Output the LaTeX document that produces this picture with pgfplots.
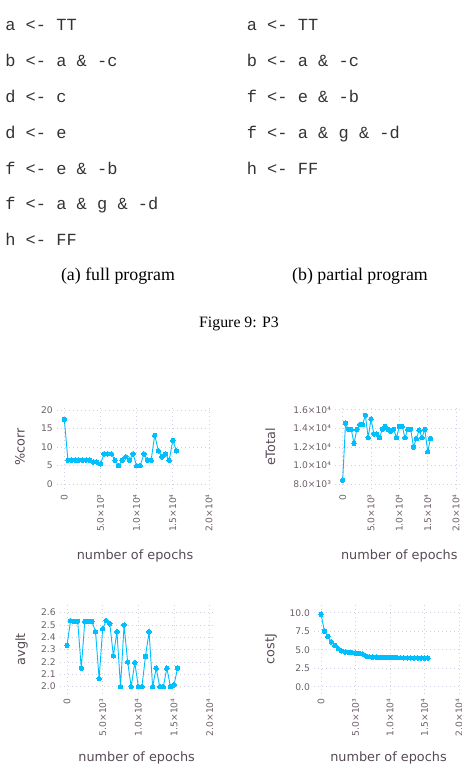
\documentclass[border=0pt]{standalone}
\usepackage{pgfplots}
\pgfplotsset{compat=1.18}
\usepackage{fontspec}
\setmainfont{Liberation Serif}
\newfontfamily\mono{Liberation Mono}
\newfontfamily\djv{DejaVu Sans}
\definecolor{gline}{HTML}{00BFFF}
\definecolor{ggrid}{HTML}{D0D0E0}
\definecolor{gtick}{HTML}{6C606B}
\definecolor{glab}{HTML}{564A55}
\pgfplotsset{
  gad/.style={
    scale only axis,
    scaled ticks=false,
    axis line style={draw=none},
    major tick length=0pt,
    grid=major,
    major grid style={dotted, color=ggrid, line width=0.5pt},
    ticklabel style={font=\djv\fontsize{5.5}{6}\selectfont, text=gtick},
    xtick={0,5000,10000,15000,20000},
    xticklabels={0,5.0×10³,1.0×10⁴,1.5×10⁴,2.0×10⁴},
    xticklabel style={rotate=90, anchor=east, inner sep=0pt},
    xticklabel shift=3pt,
    yticklabel style={anchor=east, inner sep=0pt},
    yticklabel shift=2.4pt,
    label style={font=\djv\fontsize{7.7}{9}\selectfont, text=glab},
    xlabel={number of epochs},
    clip=false,
  },
  gp/.style={color=gline, line width=0.55pt, mark=*, mark size=1.35pt, mark options={fill=gline, draw=gline, line width=0pt}},
}
\begin{document}
\begin{tikzpicture}
\path[use as bounding box] (0,0) rectangle (277.2pt,466.8pt);
% code listings
\begin{scope}[every node/.style={anchor=base west, inner sep=0pt, font=\mono\fontsize{10.2}{12}\selectfont, text=black!80}]
\node at (3pt,448.5pt) {a <- TT};
\node at (3pt,427.0pt) {b <- a \& -c};
\node at (3pt,405.4pt) {d <- c};
\node at (3pt,383.9pt) {d <- e};
\node at (3pt,362.3pt) {f <- e \& -b};
\node at (3pt,340.8pt) {f <- a \& g \& -d};
\node at (3pt,319.3pt) {h <- FF};
\node at (147.9pt,448.5pt) {a <- TT};
\node at (147.9pt,427.0pt) {b <- a \& -c};
\node at (147.9pt,405.4pt) {f <- e \& -b};
\node at (147.9pt,383.9pt) {f <- a \& g \& -d};
\node at (147.9pt,362.3pt) {h <- FF};
\end{scope}
\node[anchor=base, inner sep=0pt, font=\fontsize{10.7}{12}\selectfont] at (70.8pt,298.2pt) {(a) full program};
\node[anchor=base, inner sep=0pt, font=\fontsize{10.7}{12}\selectfont] at (216pt,298.2pt) {(b) partial program};
\node[anchor=base, inner sep=0pt, font=\fontsize{9.5}{11}\selectfont] at (143.4pt,270pt) {Figure 9: P3};

% top-left
\begin{axis}[gad, at={(34.2pt,173.4pt)}, anchor=south west, width=93.6pt, height=50.4pt,
  xmin=-1009, xmax=20553, ymin=-1.27, ymax=21.35,
  ytick={0,5,10,15,20}, yticklabels={0,5,10,15,20},
  ylabel={\%corr},
  ylabel style={at={(axis description cs:-0.237,0.5)}, anchor=center},
  xlabel style={at={(axis description cs:0.5,-0.798)}, anchor=center}]
\addplot[gp] coordinates {(0,17.5)(500,6.5)(1000,6.5)(1500,6.5)(2000,6.5)(2500,6.5)(3000,6.5)(3500,6.5)(4000,6.0)(4500,6.0)(5000,5.5)(5500,8.2)(6000,8.2)(6500,8.2)(7000,6.5)(7500,5.0)(8000,6.5)(8500,7.4)(9000,6.5)(9500,8.2)(10000,5.0)(10500,5.0)(11000,8.2)(11500,6.5)(12000,6.5)(12500,13.2)(13000,9.0)(13500,7.4)(14000,8.2)(14500,6.5)(15000,11.8)(15500,9.0)};
\end{axis}

% top-right
\begin{axis}[gad, at={(201.18pt,173.4pt)}, anchor=south west, width=76.8pt, height=50.4pt,
  xmin=-1306, xmax=21288, ymin=7496, ymax=16504,
  ytick={8000,10000,12000,14000,16000}, yticklabels={8.0×10³,1.0×10⁴,1.2×10⁴,1.4×10⁴,1.6×10⁴},
  ylabel={eTotal},
  ylabel style={at={(axis description cs:-0.508,0.5)}, anchor=center},
  xlabel style={at={(axis description cs:0.5,-0.798)}, anchor=center}]
\addplot[gp] coordinates {(0,8450)(500,14550)(1000,13900)(1500,13900)(2000,12400)(2500,13900)(3000,14400)(3500,14400)(4000,15400)(4500,13000)(5000,15000)(5500,13400)(6000,13400)(6500,13000)(7000,13900)(7500,14200)(8000,13900)(8500,13700)(9000,13900)(9500,13000)(10000,14200)(10500,14200)(11000,13000)(11500,13900)(12000,13900)(12500,12000)(13000,12900)(13500,13800)(14000,13000)(14500,13900)(15000,11500)(15500,12900)};
\end{axis}

% bottom-left
\begin{axis}[gad, at={(36pt,50.82pt)}, anchor=south west, width=91.98pt, height=52.98pt,
  xmin=-981, xmax=20505, ymin=1.946, ymax=2.662,
  ytick={2.0,2.1,2.2,2.3,2.4,2.5,2.6}, yticklabels={2.0,2.1,2.2,2.3,2.4,2.5,2.6},
  ylabel={avglt},
  ylabel style={at={(axis description cs:-0.25,0.5)}, anchor=center},
  xlabel style={at={(axis description cs:0.5,-0.736)}, anchor=center}]
\addplot[gp] coordinates {(0,2.335)(500,2.535)(1000,2.53)(1500,2.53)(2000,2.15)(2500,2.53)(3000,2.53)(3500,2.53)(4000,2.445)(4500,2.065)(5000,2.47)(5500,2.535)(6000,2.51)(6500,2.25)(7000,2.445)(7500,2.0)(8000,2.50)(8500,2.20)(9000,2.0)(9500,2.195)(10000,2.0)(10500,2.0)(11000,2.245)(11500,2.445)(12000,2.0)(12500,2.15)(13000,2.0)(13500,2.0)(14000,2.15)(14500,2.0)(15000,2.015)(15500,2.15)};
\end{axis}

% bottom-right
\begin{axis}[gad, at={(188.58pt,50.82pt)}, anchor=south west, width=89.04pt, height=52.98pt,
  xmin=-971, xmax=20536, ymin=-0.89, ymax=11.04,
  ytick={0,2.5,5,7.5,10}, yticklabels={0.0,2.5,5.0,7.5,10.0},
  ylabel={costJ},
  ylabel style={at={(axis description cs:-0.292,0.5)}, anchor=center},
  xlabel style={at={(axis description cs:0.5,-0.736)}, anchor=center}]
\addplot[gp] coordinates {(0,9.8)(500,7.5)(1000,6.8)(1500,6.05)(2000,5.6)(2500,5.15)(3000,4.85)(3500,4.7)(4000,4.65)(4500,4.6)(5000,4.55)(5500,4.5)(6000,4.45)(6500,4.15)(7000,4.05)(7500,4.0)(8000,4.0)(8500,3.98)(9000,3.97)(9500,3.96)(10000,3.95)(10500,3.94)(11000,3.93)(11500,3.92)(12000,3.91)(12500,3.90)(13000,3.9)(13500,3.89)(14000,3.88)(14500,3.88)(15000,3.87)(15500,3.87)};
\end{axis}
\end{tikzpicture}
\end{document}
